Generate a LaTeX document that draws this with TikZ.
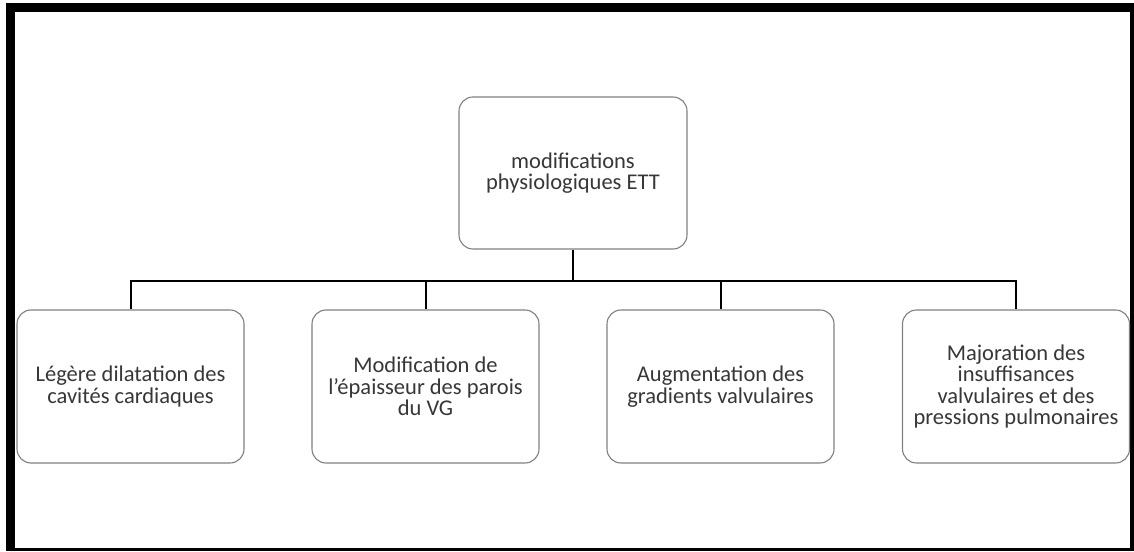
\documentclass[tikz,border=0pt]{standalone}
\usepackage{fontspec}
\setmainfont{Carlito}
\definecolor{boxline}{RGB}{128,128,128}
\definecolor{txt}{RGB}{55,55,55}
\begin{document}
\begin{tikzpicture}[x=1pt,y=1pt,
  card/.style={draw=boxline, line width=1.1pt, rounded corners=14pt, fill=white,
    minimum width=227pt, minimum height=153pt, inner sep=2pt, align=center,
    text=txt, font=\fontsize{22.5}{21.5}\selectfont},
  conn/.style={draw=black, line width=2pt}]
% frame
\useasboundingbox (0,0) rectangle (1134,551);
\fill[white] (0,0) rectangle (1134,551);
\fill[black] (6,0) rectangle (1134,548);
\fill[white] (15,3) rectangle (1130,539);
% nodes
\node[card, minimum width=228pt, minimum height=152pt] (top) at (573,378) {modifications\\physiologiques ETT};
\node[card] (b1) at (130.5,164.5) {Légère dilatation des\\cavités cardiaques};
\node[card] (b2) at (425.5,164.5) {Modification de\\l’épaisseur des parois\\du VG};
\node[card] (b3) at (720.5,164.5) {Augmentation des\\gradients valvulaires};
\node[card] (b4) at (1016,164.5) {Majoration des\\insuffisances\\valvulaires et des\\pressions pulmonaires};
\coordinate (bus) at (573,270);
% connectors
\draw[conn] (top.south) -- (bus);
\draw[conn] (b1.north) -- (b1.north |- bus) -- (b4.north |- bus) -- (b4.north);
\draw[conn] (b2.north) -- (b2.north |- bus);
\draw[conn] (b3.north) -- (b3.north |- bus);
\end{tikzpicture}
\end{document}
